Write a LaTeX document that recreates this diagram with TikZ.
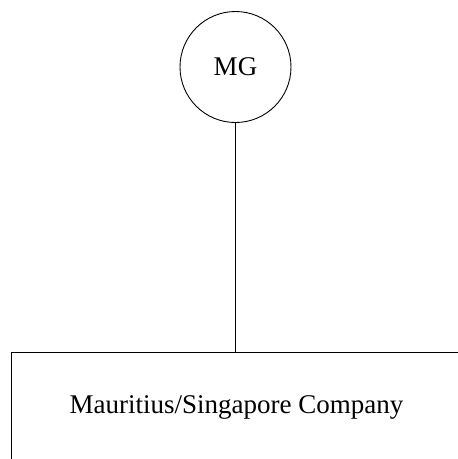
\documentclass[tikz,border=0pt]{standalone}
\usepackage{fontspec}
\setmainfont{Liberation Serif}
\begin{document}
\begin{tikzpicture}[x=1pt,y=-1pt,
  every node/.style={font=\fontsize{27}{32}\selectfont, inner sep=0pt},
  holder/.style={draw, circle, line width=0.9pt, minimum size=111pt},
  entity/.style={draw, rectangle, line width=0.9pt, anchor=north west,
    minimum width=470pt, minimum height=130pt},
  link/.style={line width=0.9pt}]
  \useasboundingbox (0,0) rectangle (458,459);
  \clip (0,0) rectangle (458,459);
  % parent holder
  \node[holder] (mg) at (235.5,67) {MG};
  % subsidiary box (runs past the page edges)
  \node[entity] (co) at (10.5,351.5) {};
  \node (lbl) at (236.5,407) {Mauritius/Singapore Company};
  % ownership link
  \draw[link] (mg.south) -- (mg.south |- co.north);
\end{tikzpicture}
\end{document}
